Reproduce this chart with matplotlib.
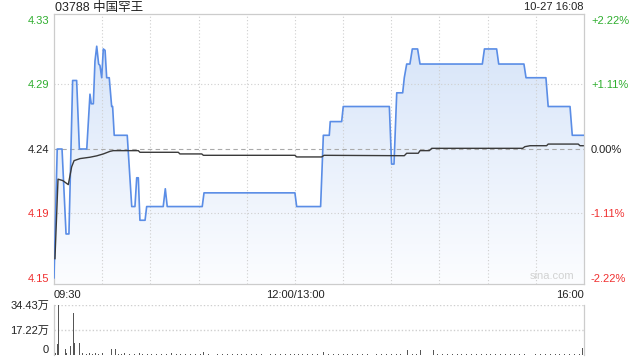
import matplotlib
matplotlib.use('Agg')
import matplotlib.pyplot as plt
import numpy as np
from matplotlib.colors import LinearSegmentedColormap
from matplotlib.patches import Polygon

plt.rcParams['font.family'] = ['Liberation Sans', 'Noto Sans CJK SC']

# 基本信息
title = '03788 中国罕王'
stamp = '10-27 16:08'
prev_close = 4.24
pct_step = 1.11

# 分时价格（交易分钟, 价格）
price_t = [0, 2, 5, 7.5, 9.3, 11.6, 14.1, 15.8, 20.4, 22.4, 23.2, 24.5, 25.5, 26.6,
           27.8, 28.6, 29.7, 30.7, 31.8, 32.8, 34.4, 35.9, 36.5, 37.5, 45.6, 48.4,
           50.4, 51.5, 52.5, 53.5, 56.7, 57.7, 68, 69.3, 70.5, 92.3, 93.4, 150,
           151.1, 166, 167.7, 171.4, 172, 179.1, 180.1, 208.8, 210.2, 211.7, 213.4,
           217.1, 218.1, 219.6, 221.6, 223.1, 226.4, 227.9, 266.7, 268, 275.6, 276.9,
           292.6, 293.9, 306.3, 307.7, 321.3, 322.7, 330]
price_v = [4.146, 4.24, 4.24, 4.178, 4.178, 4.29, 4.29, 4.24, 4.24, 4.28, 4.273, 4.273,
           4.304, 4.315, 4.302, 4.301, 4.292, 4.313, 4.312, 4.292, 4.292, 4.271, 4.271,
           4.25, 4.25, 4.198, 4.198, 4.219, 4.219, 4.188, 4.188, 4.198, 4.198, 4.211,
           4.198, 4.198, 4.208, 4.208, 4.198, 4.198, 4.25, 4.25, 4.26, 4.26, 4.271,
           4.271, 4.229, 4.229, 4.281, 4.281, 4.292, 4.302, 4.302, 4.313, 4.313, 4.302,
           4.302, 4.313, 4.313, 4.302, 4.302, 4.292, 4.292, 4.271, 4.271, 4.25, 4.25]

# 均价
avg_t = [0.6, 2.5, 5.4, 8.9, 11, 12.5, 16.2, 22.4, 26.6, 30.7, 34.9, 36.9, 52.5, 53.5,
         77.4, 78.4, 92, 93, 150, 151.1, 166.7, 168.1, 218.1, 219.6, 226.8, 227.9,
         233.7, 235.2, 291.8, 293.2, 296.4, 306.7, 307.7, 326.4, 327.5, 329.5]
avg_v = [4.160, 4.218, 4.217, 4.214, 4.227, 4.2315, 4.233, 4.234, 4.235, 4.2364, 4.2383,
         4.2388, 4.2388, 4.2376, 4.2376, 4.2364, 4.2364, 4.2354, 4.2354, 4.2342, 4.2342,
         4.2354, 4.2351, 4.2369, 4.2369, 4.2388, 4.2388, 4.2405, 4.2405, 4.2417, 4.2424,
         4.2424, 4.2436, 4.2436, 4.2424, 4.2424]

# 成交量（万股）
vol_t = [1, 2, 3, 7, 8, 10, 12, 13, 16, 18, 20, 22, 24, 26, 28, 30, 33, 36, 38, 40, 42,
         44, 47, 50, 53, 55, 58, 61, 64, 67, 70, 73, 76, 79, 82, 85, 88, 91, 93, 96, 99,
         102, 105, 108, 111, 114, 117, 120, 123, 126, 129, 132, 135, 138, 141, 144, 147,
         150, 152, 155, 158, 161, 164, 168, 171, 174, 177, 180, 183, 186, 189, 192, 195,
         198, 201, 204, 207, 210, 213, 216, 220, 223, 226, 228, 231, 236, 239, 242, 245,
         248, 251, 254, 257, 260, 263, 266, 269, 272, 275, 278, 281, 284, 287, 290, 293,
         297, 300, 303, 306, 309, 312, 315, 318, 321, 324, 327, 329]
vol_v = [1.6, 7.5, 34.43, 4.2, 1.6, 6.3, 29.0, 8.6, 8.6, 1.2, 0.8, 1.5, 0.9, 1.1, 0.7,
         1.3, 0.8, 4.2, 4.2, 1.0, 0.7, 1.2, 0.6, 0.9, 1.1, 0.6, 0.8, 1.0, 0.5, 0.9, 0.7,
         1.1, 0.6, 0.8, 0.5, 0.9, 0.7, 0.6, 2.3, 0.8, 0.5, 0.7, 0.9, 0.6, 0.8, 0.5, 0.7,
         0.9, 0.6, 0.5, 0.8, 0.6, 0.7, 0.5, 0.9, 0.6, 0.7, 0.8, 1.0, 0.6, 0.5, 0.7, 0.6,
         2.3, 0.8, 0.6, 0.9, 0.7, 0.5, 0.8, 0.6, 0.7, 0.5, 0.9, 0.6, 0.8, 0.5, 0.7, 0.6,
         0.8, 3.5, 0.7, 0.9, 3.5, 0.6, 3.5, 0.8, 0.6, 0.7, 0.5, 0.9, 0.6, 0.8, 0.5, 0.7,
         0.6, 0.9, 0.5, 0.7, 0.8, 0.6, 0.5, 0.7, 0.9, 0.6, 3.0, 0.8, 0.6, 0.7, 0.5, 0.8,
         0.6, 0.9, 0.7, 0.6, 0.8, 5.1]
vol_max = 34.43
vol_labels = ['0', '17.22万', '34.43万']

x_labels = ['09:30', '12:00/13:00', '16:00']
x_label_pos = [0, 150, 330]

green = '#2fae2f'
red = '#f03030'
grid_c = '#cfcfcf'
frame_c = '#cccccc'

fig = plt.figure(figsize=(6.4, 3.6), dpi=100)
ax = fig.add_axes([54 / 640, 76 / 360, 530 / 640, 270 / 360])
vax = fig.add_axes([54 / 640, 5 / 360, 530 / 640, 50 / 360])

# 价格坐标范围
lo = prev_close * (1 - 2 * pct_step / 100)
hi = prev_close * (1 + 2 * pct_step / 100)
pad = (hi - lo) / 258 * 6
ylo, yhi = lo - pad, hi + pad
ax.set_xlim(0, 330)
ax.set_ylim(ylo, yhi)

# 渐变填充
cmap = LinearSegmentedColormap.from_list('fill', ['#fcfdff', '#d3e2f8'])
grad = np.linspace(0, 1, 256).reshape(-1, 1)
im = ax.imshow(grad, extent=[0, 330, ylo, yhi], origin='lower', aspect='auto',
               cmap=cmap, zorder=1)
verts = [(price_t[0], ylo)] + list(zip(price_t, price_v)) + [(price_t[-1], ylo)]
poly = Polygon(verts, closed=True, facecolor='none', edgecolor='none')
ax.add_patch(poly)
im.set_clip_path(poly)

# 网格
levels = [prev_close * (1 + k * pct_step / 100) for k in (-2, -1, 0, 1, 2)]
for k, lv in zip((-2, -1, 0, 1, 2), levels):
    if k == 0:
        ax.axhline(lv, color='#aaaaaa', lw=0.8, ls=(0, (4, 3)), zorder=2)
    elif abs(k) == 1:
        ax.axhline(lv, color=grid_c, lw=0.8, ls=(0, (1, 2)), zorder=2)
for xv in range(30, 330, 30):
    ax.axvline(xv, color=grid_c, lw=0.8, ls=(0, (1, 2)), zorder=2)

ax.plot(price_t, price_v, color='#5a8de6', lw=1.2, zorder=4)
ax.plot(avg_t, avg_v, color='#3a3a3a', lw=1.0, zorder=5)

for s in ax.spines.values():
    s.set_color(frame_c)
    s.set_linewidth(0.9)

ax.set_yticks(levels, [f'{v:.2f}' for v in levels])
lab_cols = [red, red, '#222222', green, green]
for t, c in zip(ax.get_yticklabels(), lab_cols):
    t.set_color(c)
ax.tick_params(axis='y', length=0, pad=3.5, labelsize=8)

ax.set_xticks(x_label_pos, x_labels)
for t, h in zip(ax.get_xticklabels(), ['left', 'center', 'right']):
    t.set_ha(h)
ax.tick_params(axis='x', length=0, pad=4, labelsize=8, labelcolor='#222222')

rax = ax.twinx()
rax.set_ylim(ylo, yhi)
pct_labels = ['-2.22%', '-1.11%', '0.00%', '+1.11%', '+2.22%']
rax.set_yticks(levels, pct_labels)
for t, c in zip(rax.get_yticklabels(), lab_cols):
    t.set_color(c)
rax.tick_params(axis='y', length=0, pad=5, labelsize=8)
for s in rax.spines.values():
    s.set_visible(False)

ax.text(0.94, 0.012, 'sina.com', transform=ax.transAxes, ha='center', va='bottom',
        fontsize=8, color='#d2d2d2', zorder=6)

fig.text(55 / 640, 1 - 7.5 / 360, title, ha='left', va='center', fontsize=9,
         color='#222222')
fig.text(584 / 640, 1 - 7.5 / 360, stamp, ha='right', va='center', fontsize=8,
         color='#222222')

# 成交量
vax.set_xlim(0, 330)
vax.set_ylim(0, vol_max)
vax.bar(vol_t, vol_v, width=0.6, color='#555555', zorder=3)
vax.axhline(vol_max, color=grid_c, lw=1.0, ls=(0, (1, 1.5)), zorder=2)
vax.axhline(vol_max / 2, color=grid_c, lw=1.0, ls=(0, (1, 1.5)), zorder=2)
vax.spines['top'].set_visible(False)
vax.spines['bottom'].set_visible(False)
for side in ('left', 'right'):
    vax.spines[side].set_color(frame_c)
    vax.spines[side].set_linewidth(0.9)
vax.set_xticks([])
vax.set_yticks([0, vol_max / 2, vol_max], vol_labels)
vax.tick_params(axis='y', length=0, pad=3.5, labelsize=8, labelcolor='#222222')
vax.get_yticklabels()[0].set_va('bottom')

fig.savefig('out.png', dpi=100)
